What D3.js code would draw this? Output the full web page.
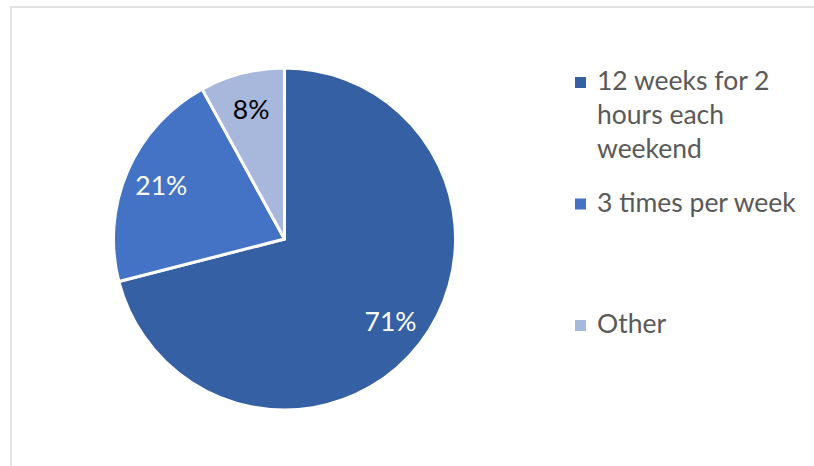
<!DOCTYPE html>
<html>
<head>
<meta charset="utf-8">
<script src="https://cdn.jsdelivr.net/npm/d3@7"></script>
<style>
  html, body { margin: 0; padding: 0; background: #fff; }
  svg { display: block; }
</style>
</head>
<body>
<svg id="chart" width="814" height="466"></svg>
<script>
// Session format shares
const categories = ["12 weeks for 2 hours each weekend", "3 times per week", "Other"];
const legendLines = [["12 weeks for 2", "hours each", "weekend"], ["3 times per week"], ["Other"]];
const values = [71, 21, 8];
const labels = ["71%", "21%", "8%"];
const colors = ["#3560A3", "#4472C4", "#A8B7DC"];
const labelColors = ["#ffffff", "#ffffff", "#000000"];

const W = 814, H = 466;
const svg = d3.select("#chart");
const font = "Lato, 'Open Sans', sans-serif";

// chart area frame (only top and left edges fall inside the view)
svg.append("rect")
  .attr("x", 11).attr("y", 7)
  .attr("width", W + 20).attr("height", H + 20)
  .attr("fill", "none").attr("stroke", "#d9d9d9").attr("stroke-width", 1.5);

const cx = 284.5, cy = 239, r = 171;
const g = svg.append("g").attr("transform", `translate(${cx},${cy})`);

const pie = d3.pie().sort(null).value(d => d);
const arcs = pie(values);
const arc = d3.arc().innerRadius(0).outerRadius(r);
const labelArc = d3.arc().innerRadius(r * 0.785).outerRadius(r * 0.785);

g.selectAll("path.slice")
  .data(arcs)
  .join("path")
  .attr("class", "slice")
  .attr("d", arc)
  .attr("fill", (d, i) => colors[i])
  .attr("stroke", "#fff")
  .attr("stroke-width", 3)
  .attr("stroke-linejoin", "round");

g.selectAll("text.lbl")
  .data(arcs)
  .join("text")
  .attr("class", "lbl")
  .attr("transform", d => `translate(${labelArc.centroid(d)})`)
  .attr("text-anchor", "middle")
  .attr("dy", "0.36em")
  .attr("fill", (d, i) => labelColors[i])
  .style("font-family", font)
  .style("font-size", "26.5px")
  .text((d, i) => labels[i]);

// legend
const legendY = d3.scalePoint().domain(d3.range(categories.length)).range([77, 320]);
const lineH = 33.8;
const leg = svg.append("g");
const items = leg.selectAll("g.item")
  .data(categories)
  .join("g")
  .attr("class", "item")
  .attr("transform", (d, i) => `translate(575,${legendY(i)})`);

items.append("rect")
  .attr("width", 11).attr("height", 11)
  .attr("fill", (d, i) => colors[i]);

items.each(function (d, i) {
  d3.select(this).selectAll("text")
    .data(legendLines[i])
    .join("text")
    .attr("x", 22)
    .attr("y", (t, j) => 13 + j * lineH)
    .attr("fill", "#595959")
    .style("font-family", font)
    .style("font-size", "26.5px")
    .text(t => t);
});
</script>
</body>
</html>
